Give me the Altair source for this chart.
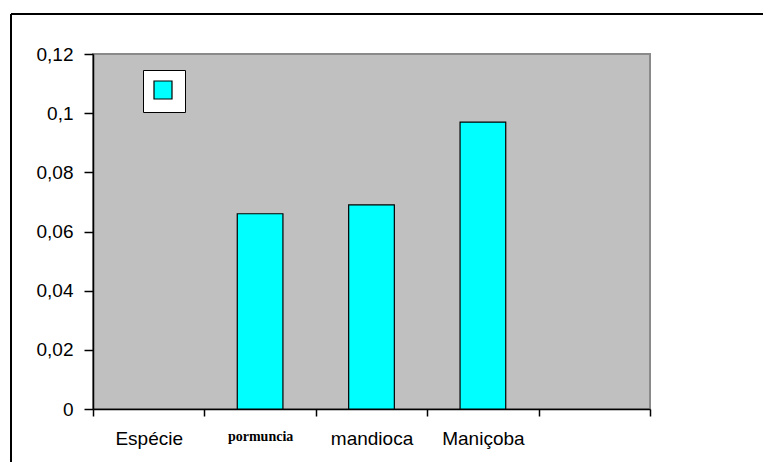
import altair as alt
import pandas as pd

categories = ["Espécie", "pormuncia", "mandioca", "Maniçoba", " "]
values = [None, 0.066, 0.069, 0.097, None]
series_name = ["s", "s", "s", "s", "s"]
y_ticks = [0, 0.02, 0.04, 0.06, 0.08, 0.10, 0.12]

df = pd.DataFrame({"cat": categories, "val": values, "series": series_name})

bars = alt.Chart(df).mark_bar(
    width=alt.RelativeBandSize(0.41), stroke="black", strokeWidth=1.2
).encode(
    x=alt.X("cat:N", sort=categories,
            scale=alt.Scale(domain=categories, paddingInner=0, paddingOuter=0),
            axis=alt.Axis(title=None, labelAngle=0, tickBand="extent",
                          domainColor="black", tickColor="black", tickSize=7,
                          domainWidth=1.5, tickWidth=1.5,
                          labelPadding=13, labelColor="black",
                          labelFontSize=alt.expr("datum.value == 'pormuncia' ? 14 : 19"),
                          labelFont=alt.expr("datum.value == 'pormuncia' ? 'Liberation Serif' : 'Liberation Sans'"),
                          labelFontWeight=alt.expr("datum.value == 'pormuncia' ? 'bold' : 'normal'"))),
    y=alt.Y("val:Q", scale=alt.Scale(domain=[0, 0.12], nice=False),
            axis=alt.Axis(title=None, values=y_ticks, grid=False,
                          labelExpr="replace(format(datum.value, '~g'), '.', ',')",
                          domainColor="black", tickColor="black", tickSize=9,
                          domainWidth=1.5, tickWidth=1.5,
                          labelPadding=11, labelColor="black", labelFontSize=19,
                          labelFont="Liberation Sans")),
    color=alt.Color("series:N", scale=alt.Scale(range=["#00FFFF"]),
                    legend=alt.Legend(title=None, orient="none", legendX=50, legendY=16,
                                      labelExpr="''", labelFontSize=1, labelOffset=0,
                                      symbolType="square", symbolSize=324,
                                      symbolStrokeColor="black", symbolStrokeWidth=1.2,
                                      fillColor="white", strokeColor="black",
                                      padding=10, symbolOffset=0)),
)

frame_v = alt.Chart(df).mark_rule(color="black", strokeWidth=1.5).encode(
    x=alt.value(-82), y=alt.value(-40), y2=alt.value(420))
frame_h = alt.Chart(df).mark_rule(color="black", strokeWidth=1.5).encode(
    x=alt.value(-82), x2=alt.value(700), y=alt.value(-40))

chart = alt.layer(frame_v, frame_h, bars).properties(
    width=557, height=355,
    autosize=alt.AutoSizeParams(type="none"),
    padding={"left": 85, "top": 46, "right": 113, "bottom": 53},
    background="white",
).configure_view(
    fill="#C0C0C0", stroke="#8a8a8a", strokeWidth=2
)

chart.save("out.html", embed_options={"renderer": "svg", "actions": False})
